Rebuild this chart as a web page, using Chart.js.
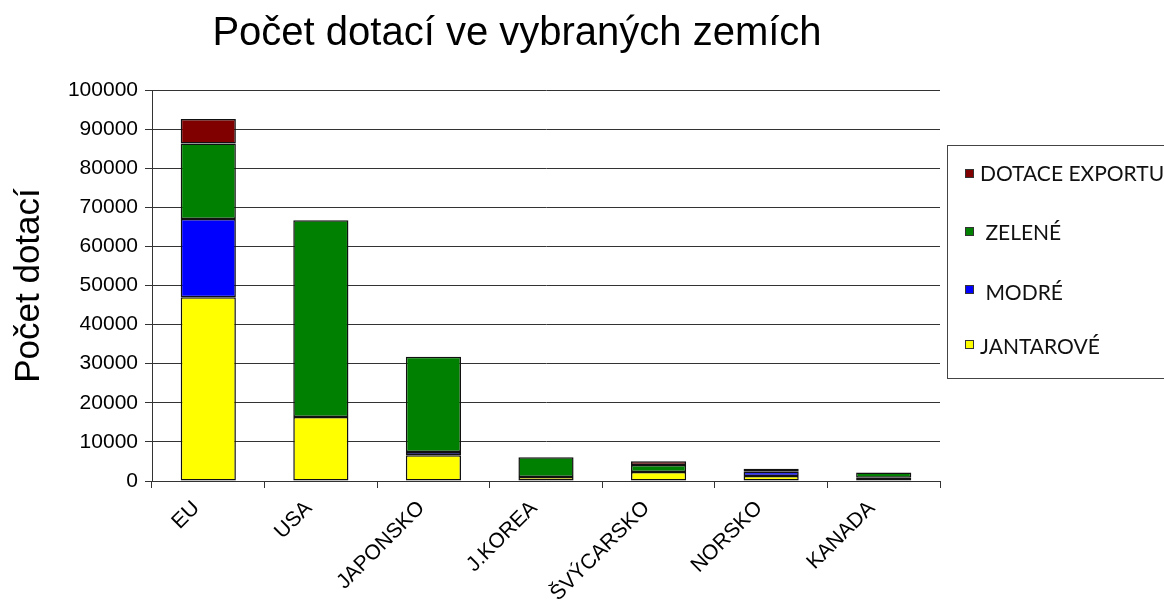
<!DOCTYPE html>
<html><head><meta charset="utf-8">
<script src="https://cdn.jsdelivr.net/npm/chart.js@4"></script>
<style>html,body{margin:0;padding:0;background:#fff;overflow:hidden;}</style>
</head><body>
<canvas id="c" width="1164" height="604"></canvas>
<script>
const chartTitle = 'Počet dotací ve vybraných zemích';
const yAxisTitle = 'Počet dotací';
const categories = ['EU', 'USA', 'JAPONSKO', 'J.KOREA', 'ŠVÝCARSKO', 'NORSKO', 'KANADA'];
const seriesNames = ['JANTAROVÉ', ' MODRÉ', ' ZELENÉ', 'DOTACE EXPORTU'];
const jantarove = [47000, 16400, 6600, 1000, 2300, 1250, 850];
const modre = [20000, 0, 800, 0, 0, 1100, 0];
const zelene = [19300, 50300, 24400, 5100, 1800, 770, 1300];
const dotaceExportu = [6300, 0, 0, 0, 950, 0, 0];
const yTickValues = [0, 10000, 20000, 30000, 40000, 50000, 60000, 70000, 80000, 90000, 100000];
const seriesColors = ['#FFFF00', '#0000FF', '#008000', '#800000'];

const gridColor = '#333333';
const sans = "'Liberation Sans', Arial, sans-serif";

const overlay = {
  id: 'overlay',
  afterDraw(chart) {
    const ctx = chart.ctx;
    ctx.save();
    ctx.fillStyle = '#000';
    ctx.font = "40px " + sans;
    ctx.textAlign = 'center';
    ctx.textBaseline = 'alphabetic';
    ctx.fillText(chartTitle, 517, 45);
    ctx.strokeStyle = '#444';
    ctx.lineWidth = 1;
    ctx.strokeRect(947.5, 145.5, 300, 233);
    const ds = chart.data.datasets.slice().reverse();
    const markerY = [173.5, 231.5, 289.5, 344.5];
    const textBase = [181, 240, 300, 354];
    ctx.font = "21px Lato, 'Open Sans', sans-serif";
    ctx.textAlign = 'left';
    ds.forEach((d, i) => {
      ctx.fillStyle = d.backgroundColor;
      ctx.fillRect(965, markerY[i] - 4.5, 9, 9);
      ctx.strokeStyle = '#333';
      ctx.strokeRect(965.5, markerY[i] - 4, 8, 8);
      ctx.fillStyle = '#111';
      ctx.fillText(d.label, 980, textBase[i]);
    });
    ctx.restore();
  }
};

const values = [jantarove, modre, zelene, dotaceExportu];
new Chart(document.getElementById('c'), {
  type: 'bar',
  data: {
    labels: categories,
    datasets: values.map((v, i) => ({
      label: seriesNames[i],
      data: v,
      backgroundColor: seriesColors[i],
      borderColor: '#111',
      borderWidth: 1.5,
      borderSkipped: false,
      categoryPercentage: 1,
      barPercentage: 0.49
    }))
  },
  options: {
    responsive: false,
    animation: false,
    devicePixelRatio: 1,
    layout: { padding: { top: 90, right: 224, left: 0, bottom: 0 } },
    plugins: { legend: { display: false }, tooltip: { enabled: false }, title: { display: false } },
    scales: {
      x: {
        stacked: true,
        offset: true,
        grid: { offset: true, drawOnChartArea: false, drawTicks: true, tickLength: 7, color: gridColor },
        border: { display: true, color: gridColor },
        ticks: { maxRotation: 45, minRotation: 45, color: '#000', font: { family: sans, size: 21 }, padding: 8, labelOffset: -12 },
        afterFit: s => { s.height = 123; }
      },
      y: {
        stacked: true,
        min: 0,
        max: 100000,
        afterBuildTicks: s => { s.ticks = yTickValues.map(v => ({ value: v })); },
        grid: { color: gridColor, lineWidth: 1, tickLength: 7, drawTicks: true },
        border: { display: true, color: gridColor },
        ticks: { color: '#000', font: { family: sans, size: 21 }, padding: 7, callback: v => String(v) },
        title: { display: true, text: yAxisTitle, color: '#000', font: { family: sans, size: 35 }, padding: { top: 8, bottom: 0 } },
        afterFit: s => { s.width = 152; }
      }
    }
  },
  plugins: [overlay]
});
</script>
</body></html>
